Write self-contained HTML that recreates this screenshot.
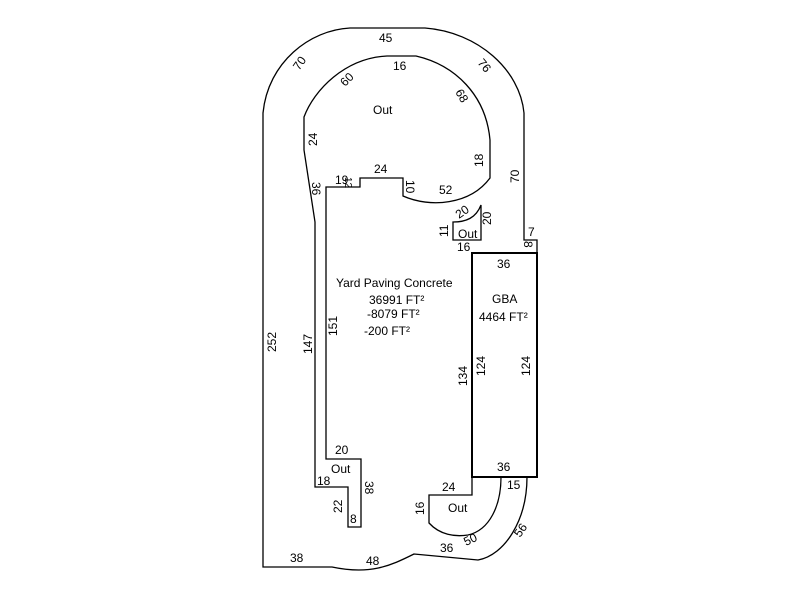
<!DOCTYPE html>
<html><head><meta charset="utf-8"><style>
html,body{margin:0;padding:0;background:#fff;}
svg{display:block;}
text{font-family:"Liberation Sans",Arial,sans-serif;font-size:12px;fill:#000;}
</style></head><body>
<svg width="800" height="600" viewBox="0 0 800 600" xmlns="http://www.w3.org/2000/svg">
<g fill="none" stroke="#000" stroke-width="1.3">
<!-- outer boundary -->
<path d="M263,567 L263,113 C268,62 310,30 350,28 L425,28 C478,32 520,70 524,113 L524,240 L537,240 L537,477 L527,477 C527,520 505,555 478,560 L414,554 C390,566 370,575 332,567 Z"/>
<!-- inner top out -->
<path d="M304,117 L304,150 L315,222 L315,487 L348,487 L348,527 L361,527 L361,459 L326,459 L326,187 L360,187 L360,178 L403,178 L403,196 C430,208 470,205 490,178 L490,140 C486,95 455,65 416,56 L387,56 C345,58 314,90 304,117 Z"/>
<!-- small out -->
<path d="M453,222 L453,240 L481,240 L481,205 C476,218 466,222 453,222 Z"/>
<!-- bottom out -->
<path d="M472,253 L472,495 L429,495 L429,523 C440,535 455,537 468,535 C490,530 501,505 501,477"/>
</g>
<rect x="472" y="253" width="65" height="224" fill="none" stroke="#000" stroke-width="2"/>
<text x="379" y="42">45</text>
<text x="393" y="70">16</text>
<text x="373" y="114">Out</text>
<text x="374" y="173">24</text>
<text x="335" y="184">19</text>
<text x="439" y="194">52</text>
<text x="458" y="238">Out</text>
<text x="457" y="251">16</text>
<text x="497" y="268">36</text>
<text x="336" y="287">Yard Paving Concrete</text>
<text x="369" y="304">36991 FT²</text>
<text x="367" y="318">-8079 FT²</text>
<text x="364" y="335">-200 FT²</text>
<text x="492" y="303">GBA</text>
<text x="479" y="321">4464 FT²</text>
<text x="335" y="454">20</text>
<text x="331" y="473">Out</text>
<text x="317" y="485">18</text>
<text x="497" y="471">36</text>
<text x="442" y="491">24</text>
<text x="507" y="489">15</text>
<text x="448" y="512">Out</text>
<text x="350" y="523">8</text>
<text x="290" y="562">38</text>
<text x="366" y="565">48</text>
<text x="440" y="552">36</text>
<text x="528" y="236">7</text>
<g>
<text transform="translate(299,71) rotate(-55)">70</text>
<text transform="translate(345,87) rotate(-45)">60</text>
<text transform="translate(477,63) rotate(50)">76</text>
<text transform="translate(455,92) rotate(60)">68</text>
<text transform="translate(466,546) rotate(-25)">50</text>
<text transform="translate(520,538) rotate(-55)">56</text>
<text transform="translate(459,219) rotate(-35)">20</text>
<text transform="translate(317,146) rotate(-90)">24</text>
<text transform="translate(483,167) rotate(-90)">18</text>
<text transform="translate(519,183) rotate(-90)">70</text>
<text transform="translate(491,225) rotate(-90)">20</text>
<text transform="translate(448,237) rotate(-90)">11</text>
<text transform="translate(276,352) rotate(-90)">252</text>
<text transform="translate(312,354) rotate(-90)">147</text>
<text transform="translate(337,336) rotate(-90)">151</text>
<text transform="translate(467,386) rotate(-90)">134</text>
<text transform="translate(485,376) rotate(-90)">124</text>
<text transform="translate(530,376) rotate(-90)">124</text>
<text transform="translate(342,513) rotate(-90)">22</text>
<text transform="translate(424,515) rotate(-90)">16</text>
<text transform="translate(312,182) rotate(90)">36</text>
<text transform="translate(406,180) rotate(90)">10</text>
<text transform="translate(345,177) rotate(90)" style="font-size:10px">12</text>
<text transform="translate(524,241) rotate(90)">8</text>
<text transform="translate(365,481) rotate(90)">38</text>
</g>
</svg>
</body></html>
